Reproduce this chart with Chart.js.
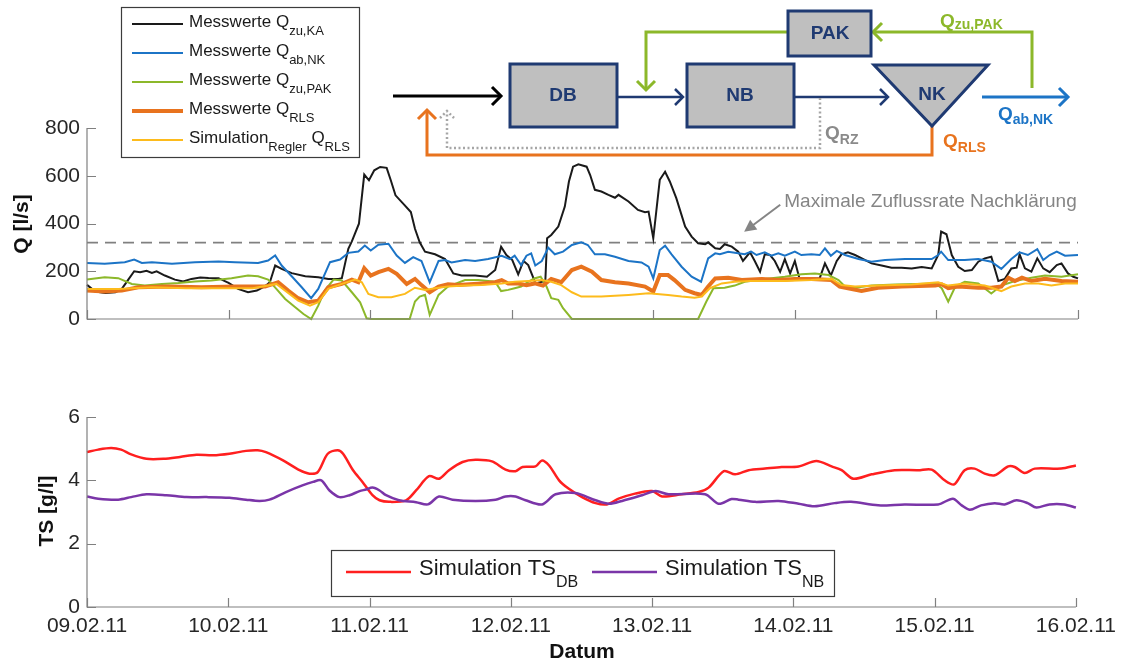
<!DOCTYPE html>
<html lang="de">
<head>
<meta charset="utf-8">
<title>Zufluss und Trockensubstanz 09.02.–16.02.2011</title>
<script src="https://cdn.jsdelivr.net/npm/chart.js@4.4.1/dist/chart.umd.min.js"></script>
<style>
  html, body { margin: 0; padding: 0; background: #fff; }
  #wrap { position: relative; width: 1123px; height: 666px; }
  #wrap canvas { position: absolute; left: 0; }
  #qChart { top: 0; }
  #tsChart { top: 345px; }
</style>
</head>
<body>
<div id="wrap">
  <canvas id="qChart" width="1123" height="345"></canvas>
  <canvas id="tsChart" width="1123" height="321"></canvas>
</div>
<script>
// x axis in hours since 09.02.11 00:00
const dayLabels = ['09.02.11', '10.02.11', '11.02.11', '12.02.11', '13.02.11', '14.02.11', '15.02.11', '16.02.11'];
const qTicks = [0, 200, 400, 600, 800];
const tsTicks = [0, 2, 4, 6];
const qMaxNK = 320; // Maximale Zuflussrate Nachklärung

// [Stunde, l/s]
const qzuKA = [[0,143],[1.4,115],[3.1,109],[4.8,112],[5.9,126],[7,165],[8,200],[9,196],[10.1,202],[11,193],[11.8,200],[13.2,182],[14.9,165],[16.3,157],[17.7,168],[19.2,174],[20.6,172],[22.3,171],[24,151],[25.6,126],[27.3,112],[28.8,119],[30.2,137],[31,154],[31.9,224],[33,210],[34.7,192],[37,179],[39.2,175],[40.9,168],[42.6,168],[43.2,171],[44.3,294],[44.9,325],[46.1,399],[47,605],[47.8,581],[48.7,623],[49.7,637],[50.8,633],[51.5,581],[52.3,518],[53.6,483],[54.9,448],[55.6,378],[56.4,321],[57.3,282],[59,271],[60.7,251],[62.1,191],[63.5,182],[65.8,182],[67.8,177],[69.2,205],[70.2,303],[71.1,268],[72.1,247],[73.1,187],[74,243],[74.8,226],[75.7,170],[76,149],[77.7,159],[78,338],[78.7,352],[79.9,387],[81,471],[81.7,576],[82.4,638],[83.3,648],[84.7,638],[85.3,603],[86.1,541],[87.2,534],[88.4,520],[89.5,508],[90.1,520],[91.8,492],[93.4,457],[94.6,447],[95.2,450],[96,338],[97.1,583],[98,617],[98.8,576],[99.9,506],[101.4,387],[102.5,345],[103.6,317],[104.8,313],[105.3,321],[106.5,296],[107.3,293],[108.1,313],[109.3,303],[110.4,282],[111.2,243],[112.4,279],[113.2,243],[114.1,198],[114.9,271],[115.8,268],[116.6,243],[117.5,198],[118.3,251],[119.2,191],[120,243],[120.8,168],[121.7,170],[124.2,170],[125.1,233],[126.1,182],[127.1,243],[127.9,271],[129,279],[130.2,268],[131.6,251],[133,233],[134.7,224],[136.4,215],[138.1,215],[139.8,212],[141.5,218],[143.2,212],[144.3,268],[144.8,366],[145.7,355],[146.6,268],[147.7,219],[148.8,201],[150,205],[151.1,240],[152.2,254],[153.3,261],[154.5,159],[155.6,168],[156.7,212],[157.6,215],[158.1,271],[159,212],[160.1,198],[161.1,254],[162.1,212],[163.2,196],[164.4,226],[165.2,233],[166.3,191],[167.2,177],[168,170]];
const qabNK = [[0,235],[3,231],[6.4,238],[8,249],[9.3,235],[11,238],[14.4,231],[18.3,238],[22.3,241],[25.1,238],[29,235],[30.7,245],[31.9,266],[33,224],[34.7,179],[36.4,133],[38,87],[39.2,126],[41.2,238],[42.9,249],[44.3,277],[46,283],[47.1,308],[48.1,287],[49.4,311],[51.1,315],[52.5,266],[53.9,235],[55.3,259],[56.7,243],[58.1,154],[59.6,243],[60.7,247],[61.8,237],[64.1,247],[65.8,243],[68,251],[70.3,265],[71.7,251],[72.5,265],[73.6,226],[74.5,265],[75.3,275],[76,224],[77.1,243],[78.2,299],[79.3,271],[80.7,282],[82.2,310],[83.8,321],[84.9,310],[86.1,271],[87.8,271],[89.5,261],[91.8,243],[94,237],[95.2,219],[96,170],[97.1,289],[98,307],[99.1,271],[100.8,219],[102.5,177],[104.1,156],[105.3,254],[106.5,275],[107.3,271],[108.7,282],[110.4,275],[111.5,271],[112.6,282],[113.5,268],[114.9,279],[116,265],[117.2,275],[118.3,265],[120,282],[121.1,268],[122.8,271],[124.2,268],[125.1,296],[126.1,265],[127.1,285],[128.5,268],[130.8,251],[133,240],[135.3,247],[138.7,251],[143.2,251],[144.3,268],[144.8,282],[146,247],[148.8,247],[151.1,251],[153.3,240],[155,210],[156.7,251],[158.1,279],[159.5,268],[161.1,293],[162.1,247],[163.2,268],[164.4,282],[165.8,265],[168,268]];
const qzuPAK = [[0,165],[3,175],[5.3,171],[7.6,147],[9.8,140],[12.7,147],[15.5,151],[18.3,157],[21.1,161],[24.5,171],[27.3,182],[29,179],[30.7,165],[32.1,126],[33.6,84],[35.3,49],[36.7,21],[38,0],[39.2,56],[40.3,119],[41.8,165],[43.2,161],[44.9,112],[46.3,70],[47.4,3],[48.2,0],[54.7,0],[55.6,73],[56.4,94],[57.3,101],[58.1,17],[59.6,101],[61.2,136],[64.1,163],[66.3,163],[69.2,156],[70.2,117],[71.4,122],[72.5,129],[73.6,136],[74.8,156],[75.8,170],[76.9,177],[77.9,136],[78.7,87],[79.9,80],[80.7,45],[82.2,0],[103.6,0],[105,73],[106.2,129],[108.1,131],[109.8,140],[111.5,156],[114.9,168],[118.3,177],[121.1,187],[123.4,191],[125.7,184],[127.4,163],[128.5,136],[130.2,131],[133,140],[137,145],[143.8,149],[144.9,129],[146,73],[147.2,136],[148.8,156],[151.1,149],[153.3,107],[155,140],[157.3,159],[160.1,173],[162.4,182],[165.2,177],[168,187]];
const qRLS = [[0,119],[3,115],[5.9,119],[8.7,133],[13.8,136],[19.4,133],[25.1,136],[30.2,136],[32.4,154],[34.1,119],[35.8,87],[37.5,70],[39.2,77],[40.9,133],[43.2,147],[44.9,165],[46,154],[47,213],[48.1,182],[49.4,196],[51.1,210],[52.5,189],[54.2,147],[55.6,168],[56.7,142],[58.1,112],[59.6,136],[61.2,145],[62.9,142],[66.9,149],[69.2,154],[70.3,163],[71.4,149],[73.1,149],[74.5,142],[75.9,149],[77.3,140],[78.7,168],[80.4,154],[82.2,205],[83.8,219],[85.6,198],[87.2,163],[89.5,154],[91.8,149],[94.6,136],[96,115],[97.1,184],[98.5,184],[99.6,163],[101.4,122],[103,108],[104.2,101],[105.3,136],[106.5,170],[108.7,173],[111,163],[114.4,168],[117.2,163],[120,168],[122.8,168],[126.2,163],[127.6,136],[129,129],[131.3,117],[134.1,131],[138.1,136],[143.8,140],[144.9,145],[146,129],[147.7,136],[151.1,131],[153.3,131],[155,136],[156.2,173],[157.3,159],[158.5,173],[160.1,159],[162.4,168],[165.2,159],[168,156]];
const qRLSsim = [[0,126],[5.3,126],[11,133],[16.8,129],[22.3,129],[28.1,129],[30.7,140],[32.1,147],[34.1,109],[35.8,77],[37.8,56],[39.2,70],[40.9,126],[43.2,147],[45.5,165],[46.6,154],[47.7,105],[49.4,91],[51.6,91],[53.9,105],[55.6,131],[57.3,122],[59,129],[61.2,136],[64.1,140],[66.9,142],[70.3,149],[72.5,156],[74.8,159],[77.1,163],[78.7,156],[80.4,142],[82.2,112],[83.8,94],[87.2,94],[91.8,101],[95.2,108],[98.5,101],[100.8,94],[103,89],[104.2,94],[105.6,129],[107.6,149],[109.8,156],[112.4,159],[118.3,159],[122.8,163],[126.2,168],[127.9,142],[130.2,136],[134.1,140],[139.8,145],[144.3,154],[146,140],[148.8,149],[152.2,140],[155,117],[156.7,136],[159,149],[161.3,149],[163.5,140],[165.8,149],[168,149]];

// [Stunde, g/l]
const tsDB = [[0,4.89],[1.9,4.97],[4.1,5.02],[5.8,4.97],[7.5,4.82],[10.1,4.68],[13,4.68],[15.8,4.74],[18.6,4.81],[21.4,4.79],[24.2,4.84],[27,4.93],[29,4.95],[30.4,4.89],[33.3,4.63],[36.1,4.32],[37.8,4.21],[39.2,4.26],[40.9,4.84],[42.6,4.95],[43.5,4.84],[45.2,4.32],[46.8,3.95],[48.5,3.53],[49.7,3.37],[51.3,3.32],[54.2,3.37],[55.9,3.68],[58.1,4.13],[59.8,4.05],[61.5,4.32],[63.8,4.58],[66,4.65],[68.8,4.6],[71.1,4.34],[72.8,4.29],[74,4.42],[76.2,4.44],[77.3,4.63],[78.5,4.47],[80.2,4.0],[81.8,3.74],[84.1,3.47],[86.4,3.28],[88.3,3.24],[90.3,3.42],[93.1,3.58],[96,3.66],[97.7,3.49],[101,3.56],[103.9,3.63],[105.6,3.77],[108.2,4.29],[110.1,4.19],[112.4,4.32],[115.2,4.37],[118,4.42],[120.9,4.44],[123.9,4.61],[126.5,4.44],[128.2,4.32],[130.2,4.05],[133.3,4.19],[137.2,4.32],[141.2,4.32],[143.5,4.34],[145.7,4.0],[147.3,3.87],[149.1,4.32],[150.8,4.37],[152.5,4.21],[154.2,4.16],[156.5,4.44],[157.6,4.42],[159.3,4.23],[161,4.37],[165.5,4.37],[168,4.47]];
const tsNB = [[0,3.49],[1.9,3.42],[5.3,3.39],[7.5,3.47],[10.1,3.56],[13.5,3.53],[16.9,3.47],[20.3,3.47],[24.2,3.45],[27,3.39],[29.3,3.35],[31,3.39],[33.8,3.63],[36.6,3.84],[38.4,3.95],[39.8,4.0],[41.2,3.68],[42.9,3.47],[44.6,3.53],[46.3,3.66],[47.4,3.71],[48.5,3.77],[49.7,3.68],[50.8,3.53],[53,3.37],[55.9,3.31],[57.9,3.24],[59.8,3.49],[62.1,3.39],[66,3.35],[69.4,3.39],[71.1,3.49],[72.8,3.49],[74.5,3.37],[77.3,3.24],[79.6,3.56],[83,3.6],[86.4,3.37],[88.7,3.26],[90.9,3.35],[94.3,3.53],[96.6,3.66],[98.8,3.56],[105,3.56],[107.3,3.26],[109.5,3.41],[110.7,3.39],[113.5,3.32],[117.5,3.35],[120.9,3.26],[123.6,3.18],[127,3.28],[129.8,3.32],[134.4,3.21],[138.9,3.24],[144.6,3.24],[147.1,3.42],[148.6,3.21],[150,3.07],[151.9,3.21],[154.2,3.28],[155.9,3.24],[157.9,3.37],[159.8,3.28],[161.3,3.14],[163.5,3.24],[166,3.24],[168,3.14]];

const FONT = '"Liberation Sans", Arial, sans-serif';
const TXT = '#262626';
const AXIS = '#808080';
const C = {
    ka: '#1a1a1a', nk: '#1c74c6', pak: '#8cb82a', rls: '#e8731e', sim: '#fdbb1c',
    db: '#ff1f1f', nb: '#7a35a8', navy: '#1f3a72', box: '#bfbfbf', grey: '#8c8c8c'
};

Chart.defaults.font.family = FONT;
Chart.defaults.color = TXT;

const toXY = pts => pts.map(([x, y]) => ({x, y}));

function series(pts, color, width, order, extra = {}) {
    return {data: toXY(pts), borderColor: color, borderWidth: width, pointRadius: 0, tension: 0, order, clip: false, ...extra};
}

function xAxis(showLabels, height) {
    return {
        type: 'linear', min: 0, max: 168,
        grid: {display: false, drawTicks: false}, border: {display: false},
        ticks: {
            stepSize: 24, autoSkip: false, maxRotation: 0, display: showLabels, padding: 7,
            color: TXT, font: {size: 21},
            callback: v => dayLabels[Math.round(v / 24)] ?? ''
        },
        afterFit: s => { s.height = height; }
    };
}

function yAxis(max, step) {
    return {
        min: 0, max,
        grid: {display: false, drawTicks: false}, border: {display: false},
        ticks: {stepSize: step, padding: 7, color: TXT, font: {size: 21}},
        afterFit: s => { s.width = 87; }
    };
}

// axis lines with inward ticks (MATLAB style)
function drawAxes(chart, xVals, yVals) {
    const {ctx, chartArea: a, scales: {x, y}} = chart;
    ctx.save();
    ctx.strokeStyle = AXIS;
    ctx.lineWidth = 1.2;
    ctx.beginPath();
    ctx.moveTo(a.left, a.top); ctx.lineTo(a.left, a.bottom); ctx.lineTo(a.right, a.bottom);
    xVals.forEach(v => { const px = Math.round(x.getPixelForValue(v)) + 0.5; ctx.moveTo(px, a.bottom); ctx.lineTo(px, a.bottom - 9); });
    yVals.forEach(v => { const py = Math.round(y.getPixelForValue(v)) + 0.5; ctx.moveTo(a.left, py); ctx.lineTo(a.left + 9, py); });
    ctx.stroke();
    ctx.restore();
}

// text with subscripts: parts = [[text, sub], ...]
function subText(ctx, x, y, parts, size, subSize, drop, weight = '') {
    for (const [t, sub] of parts) {
        ctx.font = `${weight} ${sub ? subSize : size}px ${FONT}`;
        ctx.fillText(t, x, sub ? y + drop : y);
        x += ctx.measureText(t).width;
    }
    return x;
}

function vTitle(ctx, text, x, y) {
    ctx.save();
    ctx.translate(x, y);
    ctx.rotate(-Math.PI / 2);
    ctx.font = `bold 21px ${FONT}`;
    ctx.fillStyle = '#111';
    ctx.textAlign = 'center';
    ctx.textBaseline = 'middle';
    ctx.fillText(text, 0, 0);
    ctx.restore();
}

function chevron(ctx, x, y, dir, s) {
    const d = {right: [-1, 0], left: [1, 0], up: [0, 1], down: [0, -1]}[dir];
    ctx.beginPath();
    if (d[0]) { ctx.moveTo(x + d[0] * s, y - s); ctx.lineTo(x, y); ctx.lineTo(x + d[0] * s, y + s); }
    else { ctx.moveTo(x - s, y + d[1] * s); ctx.lineTo(x, y); ctx.lineTo(x + s, y + d[1] * s); }
    ctx.stroke();
}

function path(ctx, pts) {
    ctx.beginPath();
    pts.forEach(([x, y], i) => i ? ctx.lineTo(x, y) : ctx.moveTo(x, y));
    ctx.stroke();
}

// Verfahrensschema oben rechts
function drawScheme(ctx) {
    ctx.save();
    ctx.lineCap = 'butt';
    ctx.lineJoin = 'miter';

    ctx.strokeStyle = '#000'; ctx.lineWidth = 3;
    path(ctx, [[393, 96], [500, 96]]); chevron(ctx, 501, 96, 'right', 9);

    ctx.strokeStyle = C.navy; ctx.lineWidth = 2.5;
    path(ctx, [[617, 97], [682, 97]]); chevron(ctx, 683, 97, 'right', 8);
    path(ctx, [[794, 97], [887, 97]]); chevron(ctx, 888, 97, 'right', 8);

    ctx.strokeStyle = C.pak; ctx.lineWidth = 3;
    path(ctx, [[1032, 88], [1032, 32], [874, 32]]); chevron(ctx, 873, 32, 'left', 9);
    path(ctx, [[789, 32], [646, 32], [646, 89]]); chevron(ctx, 646, 90, 'down', 9);

    ctx.strokeStyle = C.rls; ctx.lineWidth = 3;
    path(ctx, [[932, 126], [932, 155], [427, 155], [427, 111]]); chevron(ctx, 427, 110, 'up', 9);

    ctx.strokeStyle = '#a6a6a6'; ctx.lineWidth = 2.5; ctx.setLineDash([2, 2.5]);
    path(ctx, [[820, 98], [820, 148], [447, 148], [447, 112]]); chevron(ctx, 447, 111, 'up', 7);
    ctx.setLineDash([]);

    ctx.strokeStyle = C.nk; ctx.lineWidth = 3;
    path(ctx, [[982, 97], [1067, 97]]); chevron(ctx, 1068, 97, 'right', 9);

    // Becken
    ctx.fillStyle = C.box; ctx.strokeStyle = C.navy; ctx.lineWidth = 3;
    [[510, 64, 107, 63], [687, 64, 107, 63], [788, 11, 83, 45]].forEach(([x, y, w, h]) => {
        ctx.fillRect(x, y, w, h); ctx.strokeRect(x, y, w, h);
    });
    ctx.beginPath();
    ctx.moveTo(874, 65); ctx.lineTo(988, 65); ctx.lineTo(932, 126); ctx.closePath();
    ctx.fill(); ctx.stroke();

    ctx.fillStyle = C.navy; ctx.font = `bold 19px ${FONT}`;
    ctx.textAlign = 'center'; ctx.textBaseline = 'middle';
    ctx.fillText('DB', 563, 96);
    ctx.fillText('NB', 740, 96);
    ctx.fillText('PAK', 830, 34);
    ctx.fillText('NK', 932, 95);

    ctx.textAlign = 'left'; ctx.textBaseline = 'alphabetic';
    ctx.fillStyle = C.pak; subText(ctx, 940, 27, [['Q', false], ['zu,PAK', true]], 19, 14, 2, 'bold');
    ctx.fillStyle = C.nk; subText(ctx, 998, 120, [['Q', false], ['ab,NK', true]], 19, 14, 4, 'bold');
    ctx.fillStyle = '#8a8a8a'; subText(ctx, 825, 139, [['Q', false], ['RZ', true]], 19, 14, 5, 'bold');
    ctx.fillStyle = C.rls; subText(ctx, 943, 147, [['Q', false], ['RLS', true]], 19, 14, 5, 'bold');
    ctx.restore();
}

const qLegend = [
    {color: C.ka, width: 2, parts: [['Messwerte Q', false], ['zu,KA', true]]},
    {color: C.nk, width: 2, parts: [['Messwerte Q', false], ['ab,NK', true]]},
    {color: C.pak, width: 2, parts: [['Messwerte Q', false], ['zu,PAK', true]]},
    {color: C.rls, width: 4, parts: [['Messwerte Q', false], ['RLS', true]]},
    {color: C.sim, width: 2, parts: [['Simulation', false], ['Regler', true], [' Q', false], ['RLS', true]]}
];

const tsLegend = [
    {color: C.db, x: 346, parts: [['Simulation TS', false], ['DB', true]]},
    {color: C.nb, x: 592, parts: [['Simulation TS', false], ['NB', true]]}
];

const qDecor = {
    id: 'qDecor',
    afterDraw(chart) {
        const {ctx, scales: {x, y}} = chart;
        drawAxes(chart, dayLabels.map((_, i) => i * 24), qTicks);
        vTitle(ctx, 'Q [l/s]', 22, 224);

        // Hinweis auf die gestrichelte Linie
        ctx.save();
        const tx = x.getPixelForValue(118.2), ty = y.getPixelForValue(470);
        const ax = x.getPixelForValue(111.4), ay = y.getPixelForValue(365);
        ctx.fillStyle = '#858585'; ctx.strokeStyle = '#858585'; ctx.lineWidth = 2;
        ctx.font = `19px ${FONT}`; ctx.textBaseline = 'alphabetic';
        ctx.fillText('Maximale Zuflussrate Nachklärung', tx, ty);
        const sx = tx - 4, sy = ty - 2;
        const ang = Math.atan2(ay - sy, ax - sx);
        ctx.beginPath(); ctx.moveTo(sx, sy); ctx.lineTo(ax - 8 * Math.cos(ang), ay - 8 * Math.sin(ang)); ctx.stroke();
        ctx.beginPath();
        ctx.moveTo(ax, ay);
        ctx.lineTo(ax - 12 * Math.cos(ang) + 6 * Math.sin(ang), ay - 12 * Math.sin(ang) - 6 * Math.cos(ang));
        ctx.lineTo(ax - 12 * Math.cos(ang) - 6 * Math.sin(ang), ay - 12 * Math.sin(ang) + 6 * Math.cos(ang));
        ctx.closePath(); ctx.fill();

        // Legende
        ctx.fillStyle = '#fff'; ctx.strokeStyle = '#3c3c3c'; ctx.lineWidth = 1.2;
        ctx.fillRect(121, 7, 238, 150); ctx.strokeRect(121.5, 7.5, 238, 150);
        qLegend.forEach((e, i) => {
            const ly = 24 + i * 29;
            ctx.strokeStyle = e.color; ctx.lineWidth = e.width;
            path(ctx, [[132, ly], [183, ly]]);
            ctx.fillStyle = '#1a1a1a';
            subText(ctx, 189, ly + 3, e.parts, 17, 13, 8);
        });
        ctx.restore();

        drawScheme(ctx);
    }
};

const tsDecor = {
    id: 'tsDecor',
    afterDraw(chart) {
        const {ctx} = chart;
        drawAxes(chart, dayLabels.map((_, i) => i * 24), tsTicks);
        vTitle(ctx, 'TS [g/l]', 47, 166);

        ctx.save();
        ctx.fillStyle = '#111'; ctx.font = `bold 21px ${FONT}`;
        ctx.textAlign = 'center'; ctx.textBaseline = 'middle';
        ctx.fillText('Datum', 582, 307);

        ctx.fillStyle = '#fff'; ctx.strokeStyle = '#3c3c3c'; ctx.lineWidth = 1.2;
        ctx.fillRect(331, 205, 503, 46); ctx.strokeRect(331.5, 205.5, 503, 46);
        ctx.textAlign = 'left'; ctx.textBaseline = 'alphabetic';
        tsLegend.forEach(e => {
            const ly = 227;
            ctx.strokeStyle = e.color; ctx.lineWidth = 2.5;
            path(ctx, [[e.x, ly], [e.x + 65, ly]]);
            ctx.fillStyle = '#1a1a1a';
            subText(ctx, e.x + 73, ly + 3, e.parts, 22, 16, 12);
        });
        ctx.restore();
    }
};

const common = {
    responsive: false,
    animation: false,
    devicePixelRatio: 1,
    parsing: true,
    plugins: {legend: {display: false}, tooltip: {enabled: false}}
};

new Chart(document.getElementById('qChart'), {
    type: 'line',
    data: {
        datasets: [
            series([[0, qMaxNK], [168, qMaxNK]], '#808080', 1.6, 9, {borderDash: [11, 7]}),
            series(qzuKA, C.ka, 2, 5),
            series(qabNK, C.nk, 2, 4),
            series(qzuPAK, C.pak, 2, 3),
            series(qRLS, C.rls, 4, 2),
            series(qRLSsim, C.sim, 2, 1)
        ]
    },
    options: {
        ...common,
        layout: {padding: {top: 128, right: 45, left: 0, bottom: 0}},
        scales: {x: xAxis(false, 26), y: yAxis(800, 200)}
    },
    plugins: [qDecor]
});

new Chart(document.getElementById('tsChart'), {
    type: 'line',
    data: {
        datasets: [
            series(tsDB, C.db, 2.5, 2, {tension: 0.3}),
            series(tsNB, C.nb, 2.5, 1, {tension: 0.3})
        ]
    },
    options: {
        ...common,
        layout: {padding: {top: 72, right: 45, left: 0, bottom: 0}},
        scales: {x: xAxis(true, 59), y: yAxis(6, 2)}
    },
    plugins: [tsDecor]
});
</script>
</body>
</html>
